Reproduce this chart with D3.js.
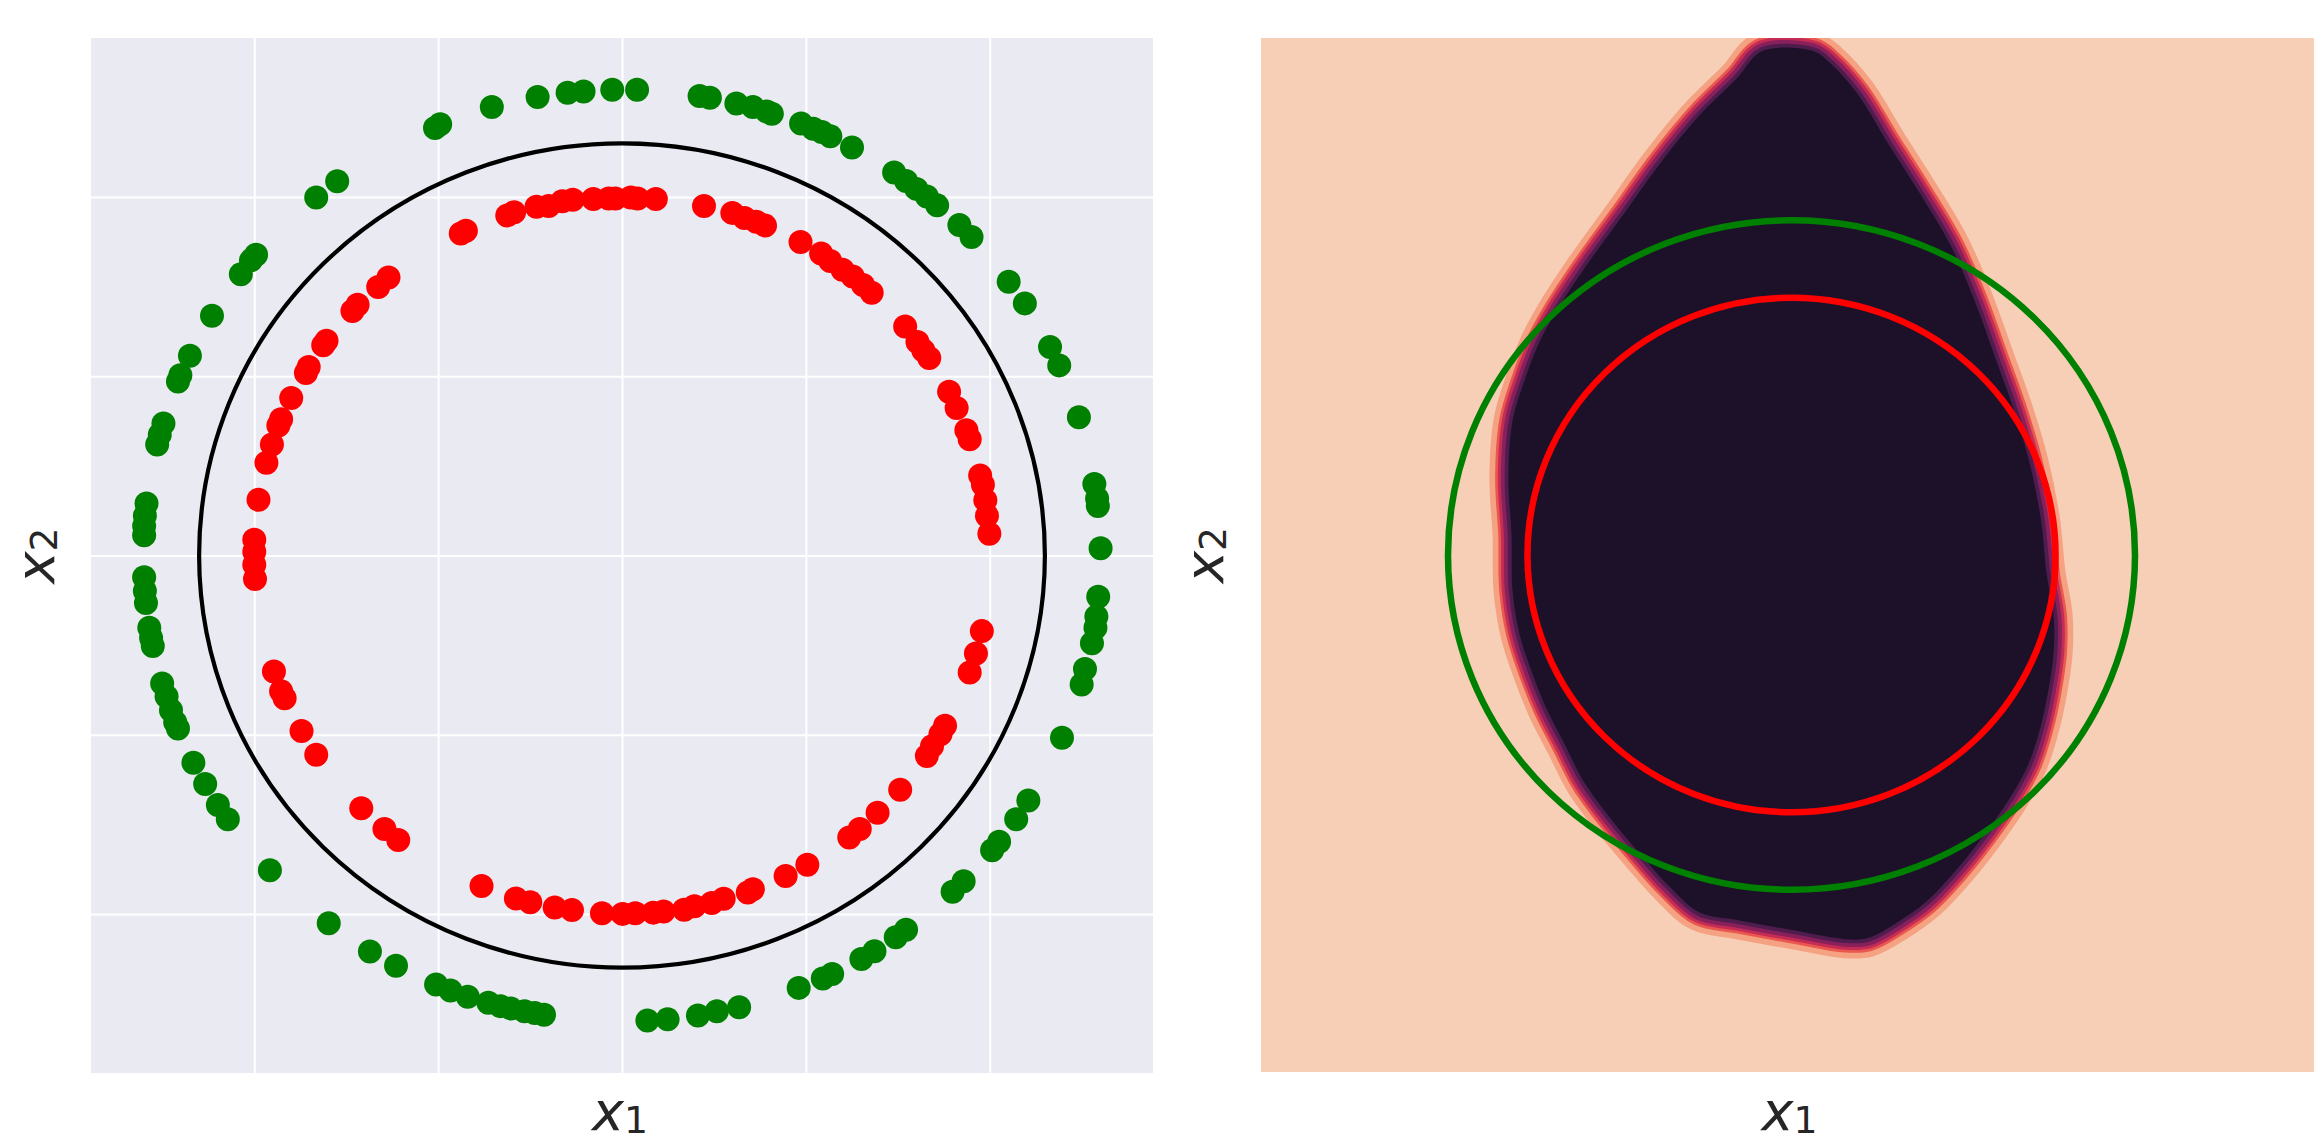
<!DOCTYPE html>
<meta charset="utf-8">
<style>
  body { margin: 0; background: #fff; }
  .grid line { stroke: #fff; stroke-width: 2; }
  .label { font-family: "DejaVu Sans", sans-serif; fill: #262626; font-size: 54px; }
</style>
<script src="https://d3js.org/d3.v7.min.js"></script>
<body>
<script>

const width = 2314;
const height = 1143;

// both panels share the same data window
const lim = 2.888;
const gridTicks = [-2, -1, 0, 1, 2];

// radius of the black boundary on the left, and the two rings on the right
const boundaryRadius = 2.3;
const outerRingRadius = 1.87;
const innerRingRadius = 1.4375;

// outer class (green)
const greenPoints = [
  [-0.053, 2.599], [-0.209, 2.589], [-0.296, 2.582], [-0.459, 2.559], [-0.708, 2.503],
  [-0.989, 2.407], [-1.017, 2.386], [-1.549, 2.088], [-1.663, 1.998], [-1.990, 1.678],
  [-2.018, 1.647], [-2.073, 1.570], [-2.230, 1.338], [-2.350, 1.115], [-2.402, 1.006],
  [-2.415, 0.971], [-2.494, 0.737], [-2.514, 0.674], [-2.528, 0.620], [-2.586, 0.290],
  [-2.595, 0.222], [-2.599, 0.165], [-2.599, 0.113], [-2.599, -0.121], [-2.595, -0.198],
  [-2.589, -0.265], [-2.571, -0.403], [-2.561, -0.461], [-2.552, -0.505], [-2.501, -0.714],
  [-2.477, -0.787], [-2.453, -0.864], [-2.430, -0.931], [-2.415, -0.966], [-2.331, -1.156],
  [-2.267, -1.275], [-2.198, -1.392], [-2.144, -1.472], [-1.915, -1.757], [-1.595, -2.052],
  [-1.371, -2.210], [-1.229, -2.290], [-1.011, -2.394], [-0.933, -2.428], [-0.839, -2.463],
  [-0.727, -2.496], [-0.661, -2.515], [-0.605, -2.528], [-0.530, -2.544], [-0.474, -2.553],
  [-0.424, -2.563], [0.138, -2.595], [0.248, -2.588], [0.413, -2.567], [0.516, -2.544],
  [0.637, -2.521], [0.961, -2.413], [1.092, -2.361], [1.143, -2.336], [1.302, -2.252],
  [1.373, -2.208], [1.489, -2.131], [1.545, -2.089], [1.798, -1.876], [1.858, -1.818],
  [2.013, -1.645], [2.051, -1.597], [2.144, -1.472], [2.210, -1.367], [2.393, -1.017],
  [2.500, -0.720], [2.518, -0.634], [2.556, -0.490], [2.575, -0.403], [2.580, -0.340],
  [2.590, -0.230], [2.603, 0.040], [2.588, 0.276], [2.584, 0.318], [2.569, 0.399],
  [2.485, 0.772], [2.378, 1.061], [2.328, 1.163], [2.191, 1.407], [2.103, 1.528],
  [1.901, 1.777], [1.835, 1.845], [1.714, 1.954], [1.658, 2.004], [1.601, 2.046],
  [1.545, 2.090], [1.480, 2.138], [1.251, 2.277], [1.133, 2.340], [1.087, 2.363],
  [1.040, 2.382], [0.974, 2.411], [0.815, 2.465], [0.787, 2.478], [0.712, 2.503],
  [0.622, 2.522], [0.478, 2.555], [0.422, 2.564], [0.082, 2.599]
];

// inner class (red)
const redPoints = [
  [-0.156, 1.989], [-0.072, 1.992], [-0.268, 1.985], [-0.325, 1.977], [-0.399, 1.950],
  [-0.465, 1.946], [-0.587, 1.916], [-0.624, 1.898], [-0.849, 1.812], [-0.877, 1.797],
  [-1.270, 1.551], [-1.326, 1.499], [-1.438, 1.399], [-1.466, 1.365], [-1.607, 1.198],
  [-1.625, 1.173], [-1.704, 1.052], [-1.719, 1.019], [-1.799, 0.879], [-1.854, 0.760],
  [-1.869, 0.725], [-1.904, 0.620], [-1.934, 0.518], [-1.977, 0.311], [-2.000, 0.088],
  [-2.000, 0.021], [-2.000, -0.052], [-1.996, -0.131], [-1.893, -0.647], [-1.854, -0.758],
  [-1.835, -0.797], [-1.743, -0.979], [-1.663, -1.112], [-1.418, -1.411], [-1.292, -1.526],
  [-1.217, -1.588], [-0.764, -1.845], [-0.577, -1.914], [-0.499, -1.935], [-0.366, -1.964],
  [-0.272, -1.979], [-0.109, -1.997], [0.003, -2.000], [0.072, -1.997], [0.170, -1.993],
  [0.226, -1.987], [0.338, -1.977], [0.394, -1.958], [0.488, -1.939], [0.553, -1.916],
  [0.684, -1.881], [0.712, -1.862], [0.890, -1.789], [1.008, -1.726], [1.236, -1.574],
  [1.293, -1.526], [1.390, -1.436], [1.513, -1.307], [1.658, -1.119], [1.686, -1.065],
  [1.732, -0.998], [1.757, -0.950], [1.891, -0.653], [1.925, -0.547], [1.957, -0.422],
  [1.998, 0.121], [1.985, 0.222], [1.976, 0.309], [1.963, 0.395], [1.948, 0.447],
  [1.891, 0.649], [1.873, 0.699], [1.820, 0.823], [1.779, 0.914], [1.671, 1.102],
  [1.639, 1.144], [1.607, 1.192], [1.540, 1.278], [1.358, 1.466], [1.311, 1.509],
  [1.255, 1.557], [1.199, 1.595], [1.133, 1.643], [1.083, 1.685], [0.971, 1.749],
  [0.778, 1.841], [0.731, 1.862], [0.666, 1.883], [0.600, 1.912], [0.446, 1.950],
  [0.184, 1.990], [0.085, 1.992], [0.048, 1.998], [-0.036, 1.992]
];

// edge of the dark decision region on the right, clockwise from the top
const regionOutline = [
  [-0.160, 2.815], [0.117, 2.815], [0.204, 2.754], [0.356, 2.581], [0.524, 2.302],
  [0.693, 2.029], [0.867, 1.728], [0.992, 1.433], [1.122, 1.065], [1.204, 0.831],
  [1.291, 0.535], [1.356, 0.212], [1.389, -0.106], [1.427, -0.340], [1.427, -0.546],
  [1.399, -0.753], [1.356, -0.959], [1.291, -1.165], [1.204, -1.332], [1.079, -1.522],
  [0.905, -1.750], [0.736, -1.934], [0.568, -2.057], [0.416, -2.140], [0.291, -2.146],
  [0.035, -2.101], [-0.291, -2.040], [-0.503, -1.996], [-0.666, -1.851], [-0.813, -1.683],
  [-0.981, -1.477], [-1.128, -1.271], [-1.231, -1.065], [-1.334, -0.858], [-1.416, -0.647],
  [-1.481, -0.440], [-1.519, -0.195], [-1.524, 0.106], [-1.541, 0.429], [-1.519, 0.747],
  [-1.459, 0.959], [-1.378, 1.176], [-1.291, 1.343], [-1.128, 1.600], [-0.916, 1.901],
  [-0.709, 2.196], [-0.503, 2.453], [-0.296, 2.664]
];

// contour level colours, outside to inside
const levelColors = ["#f6cfb6", "#f4a282", "#e9574e", "#c42c56", "#87205b", "#4e1d4d", "#1c1129"];
const bandReach = [19, 13.3, 10.6, 7.6, 3.8];

const left = {x0: 91, x1: 1153, y0: 38, y1: 1073};
const right = {x0: 1261, x1: 2322, y0: 38, y1: 1072};

const svg = d3.select("body")
              .append("svg")
              .attr("width", width)
              .attr("height", height)
              .style("display", "block");

const xL = d3.scaleLinear().domain([-lim, lim]).range([left.x0, left.x1]);
const yL = d3.scaleLinear().domain([-lim, lim]).range([left.y1, left.y0]);
const xR = d3.scaleLinear().domain([-lim, lim]).range([right.x0, right.x1]);
const yR = d3.scaleLinear().domain([-lim, lim]).range([right.y1, right.y0]);

// ---- left panel ----
svg.append("rect")
   .attr("x", left.x0).attr("y", left.y0)
   .attr("width", left.x1 - left.x0).attr("height", left.y1 - left.y0)
   .attr("fill", "#eaeaf2");

svg.append("g")
   .attr("class", "grid")
   .attr("transform", `translate(0,${left.y1})`)
   .call(d3.axisBottom(xL).tickValues(gridTicks).tickSize(-(left.y1 - left.y0)).tickFormat(""))
   .call(g => g.select(".domain").remove());

svg.append("g")
   .attr("class", "grid")
   .attr("transform", `translate(${left.x0},0)`)
   .call(d3.axisLeft(yL).tickValues(gridTicks).tickSize(-(left.x1 - left.x0)).tickFormat(""))
   .call(g => g.select(".domain").remove());

svg.append("g")
   .selectAll("circle")
   .data(greenPoints)
   .enter().append("circle")
   .attr("cx", d => xL(d[0]))
   .attr("cy", d => yL(d[1]))
   .attr("r", 12)
   .attr("fill", "green");

svg.append("g")
   .selectAll("circle")
   .data(redPoints)
   .enter().append("circle")
   .attr("cx", d => xL(d[0]))
   .attr("cy", d => yL(d[1]))
   .attr("r", 12)
   .attr("fill", "red");

svg.append("ellipse")
   .attr("cx", xL(0)).attr("cy", yL(0))
   .attr("rx", xL(boundaryRadius) - xL(0))
   .attr("ry", yL(0) - yL(boundaryRadius))
   .attr("fill", "none")
   .attr("stroke", "black")
   .attr("stroke-width", 4.2);

// ---- right panel ----
svg.append("clipPath")
   .attr("id", "clipR")
   .append("rect")
   .attr("x", right.x0).attr("y", right.y0)
   .attr("width", right.x1 - right.x0).attr("height", right.y1 - right.y0);

const panelR = svg.append("g").attr("clip-path", "url(#clipR)");

panelR.append("rect")
      .attr("x", right.x0).attr("y", right.y0)
      .attr("width", right.x1 - right.x0).attr("height", right.y1 - right.y0)
      .attr("fill", levelColors[0]);

const regionLine = d3.line()
                     .x(d => xR(d[0]))
                     .y(d => yR(d[1]))
                     .curve(d3.curveCatmullRomClosed);

bandReach.forEach((r, i) => {
  panelR.append("path")
        .attr("d", regionLine(regionOutline))
        .attr("fill", "none")
        .attr("stroke", levelColors[i + 1])
        .attr("stroke-width", r * 2)
        .attr("stroke-linejoin", "round");
});

panelR.append("path")
      .attr("d", regionLine(regionOutline))
      .attr("fill", levelColors[levelColors.length - 1]);

panelR.append("ellipse")
      .attr("cx", xR(0)).attr("cy", yR(0))
      .attr("rx", xR(outerRingRadius) - xR(0))
      .attr("ry", yR(0) - yR(outerRingRadius))
      .attr("fill", "none")
      .attr("stroke", "green")
      .attr("stroke-width", 6.5);

panelR.append("ellipse")
      .attr("cx", xR(0)).attr("cy", yR(0))
      .attr("rx", xR(innerRingRadius) - xR(0))
      .attr("ry", yR(0) - yR(innerRingRadius))
      .attr("fill", "none")
      .attr("stroke", "red")
      .attr("stroke-width", 6.5);

// ---- axis labels ----
function mathLabel(x, y, sub, angle) {
  const t = svg.append("text")
               .attr("class", "label")
               .attr("text-anchor", "middle")
               .attr("transform", `translate(${x},${y}) rotate(${angle})`);
  t.append("tspan").attr("font-style", "italic").text("x");
  t.append("tspan").attr("font-size", "37.8px").attr("dy", 3).text(sub);
}

mathLabel((left.x0 + left.x1) / 2 - 2, 1130, "1", 0);
mathLabel((right.x0 + right.x1) / 2 - 2, 1130, "1", 0);
mathLabel(54, (left.y0 + left.y1) / 2, "2", -90);
mathLabel(1223, (right.y0 + right.y1) / 2, "2", -90);

</script>
</body>
